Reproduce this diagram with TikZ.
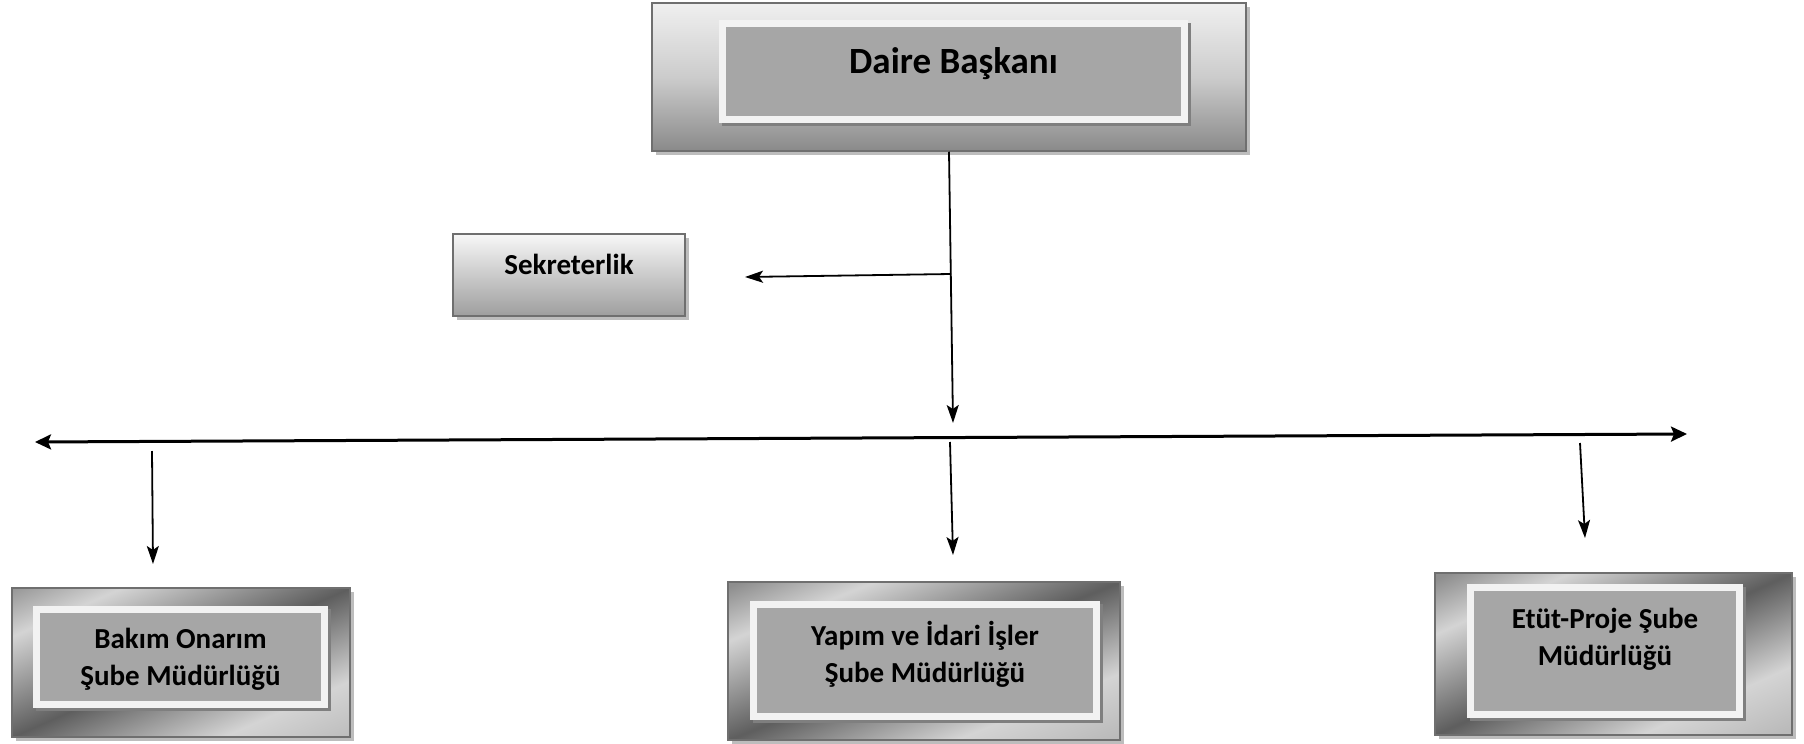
\documentclass[tikz,border=0pt]{standalone}
\usepackage{fontspec}
\setmainfont{Carlito}
\usetikzlibrary{positioning}
\usetikzlibrary{shadows}
\usetikzlibrary{arrows.meta}

\definecolor{boxline}{HTML}{6F6F6F}
\definecolor{shadowgray}{HTML}{BDBDBD}
\definecolor{framewhite}{HTML}{F2F2F2}
\definecolor{framefill}{HTML}{A6A6A6}
\definecolor{frameshadow}{HTML}{7F7F7F}
\definecolor{subeA}{HTML}{8E8E8E}
\definecolor{subeB}{HTML}{BABABA}
\definecolor{subeC}{HTML}{D4D4D4}
\definecolor{subeD}{HTML}{5E5E5E}
\pgfdeclareverticalshading{subeshade}{100bp}{color(0bp)=(subeB); color(35.8bp)=(subeB); color(41.5bp)=(subeC); color(50bp)=(subeD); color(59.2bp)=(subeC); color(64.2bp)=(subeA); color(100bp)=(subeA)}

\tikzset{
	every node/.style = {font=\bfseries\fontsize{29}{37}\selectfont, inner sep=0pt},
	outerbox/.style = {draw=boxline, line width=1.5pt, drop shadow={shadow xshift=4pt, shadow yshift=-4pt, fill=shadowgray, opacity=1}},
	headbox/.style = {outerbox, top color=black!6, bottom color=black!46, middle color=black!20},
	sekbox/.style = {outerbox, top color=black!3, bottom color=black!38},
	subebox/.style = {outerbox, path picture={
		\shade[shading=subeshade, shading angle=#1] ([shift={(-250pt,-250pt)}]path picture bounding box.center) rectangle ++(500pt,500pt);}},
	framebox/.style = {draw=framewhite, line width=7pt, fill=framefill, align=center, drop shadow={shadow xshift=3pt, shadow yshift=-3pt, fill=frameshadow, draw=frameshadow, line width=7pt, opacity=1}},
	thinarrow/.style = {line width=1.8pt, -{Stealth[length=18pt, width=12pt, inset=4pt]}},
	bararrow/.style = {line width=3pt, {Stealth[length=16pt, width=15pt, inset=3pt]}-{Stealth[length=16pt, width=15pt, inset=3pt]}}
}

\begin{document}
\begin{tikzpicture}[x=1pt, y=-1pt]
		\useasboundingbox (0,0) rectangle (1804,744);
		% head
		\node[headbox, minimum width=594pt, minimum height=148pt] (daireOut) at (949,77) {};
		\node[framebox, minimum width=462pt, minimum height=96pt, font=\bfseries\fontsize{37}{44}\selectfont, text depth=22pt] (daire) at (953.5,71.5) {Daire Başkanı};
		\node[sekbox, minimum width=232pt, minimum height=82pt, text depth=21pt] (sekreter) at (569,275) {Sekreterlik};
		
		% sube boxes
		\node[subebox=23.8, minimum width=338pt, minimum height=149pt] (bakimOut) at (181,662.5) {};
		\node[framebox, minimum width=288pt, minimum height=95pt, text depth=0pt] (bakim) at (180.5,657) {Bakım Onarım\\Şube Müdürlüğü};
		\node[subebox=22, minimum width=392pt, minimum height=158pt] (yapimOut) at (924,661) {};
		\node[framebox, minimum width=343pt, minimum height=112pt, text depth=17pt] (yapim) at (925,660.5) {Yapım ve İdari İşler\\Şube Müdürlüğü};
		\node[subebox=24.4, minimum width=357pt, minimum height=162pt] (etutOut) at (1613.5,654) {};
		\node[framebox, minimum width=269pt, minimum height=127pt, text depth=29pt] (etut) at (1605,651) {Etüt-Proje Şube\\Müdürlüğü};
		
		% connectors
		\coordinate (junction) at (951,274);
		\coordinate (sekTip) at (745,277);
		\coordinate (barTip) at (953,423);
		\coordinate (barL) at (35,442);
		\coordinate (barR) at (1687,434);
		\draw[thinarrow] (daireOut.south) -- (barTip);
		\draw[thinarrow] (junction) -- (sekTip);
		\draw[bararrow] (barL) -- (barR);
		\foreach \n/\xa/\ya/\xb/\yb in {bakim/152/451/153/564, yapim/950/442/953/555, etut/1580/443/1585/538}{
			\coordinate (\n-top) at (\xa,\ya);
			\coordinate (\n-tip) at (\xb,\yb);
		}
		\foreach \n in {bakim, yapim, etut}
			\draw[thinarrow] (\n-top) -- (\n-tip);
	\end{tikzpicture}
\end{document}
